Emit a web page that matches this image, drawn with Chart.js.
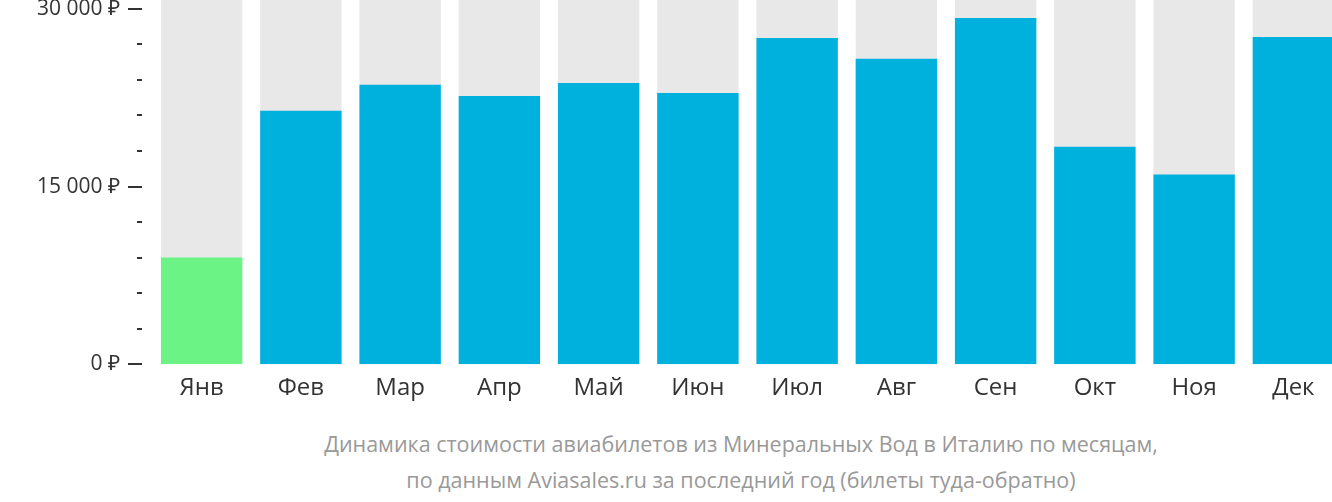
<!DOCTYPE html>
<html><head><meta charset="utf-8">
<script src="https://cdn.jsdelivr.net/npm/chart.js@4"></script>
<style>
body{margin:0;width:1332px;height:502px;overflow:hidden;background:#fff;font-family:"Open Sans",sans-serif}
#wrap{width:1343px;height:405px;position:relative}
.cap{position:absolute;left:0;width:1482px;text-align:center;color:#999;font-size:21.5px;line-height:30px}
</style></head><body>
<div id="wrap"><canvas id="myChart"></canvas></div>
<div class="cap" style="top:429px">Динамика стоимости авиабилетов из Минеральных Вод в Италию по месяцам,</div>
<div class="cap" style="top:465px">по данным Aviasales.ru за последний год (билеты туда-обратно)</div>
<script>
// Chart data
const months = ['Янв','Фев','Мар','Апр','Май','Июн','Июл','Авг','Сен','Окт','Ноя','Дек'];
const prices = [9000,21400,23600,22650,23750,22900,27550,25780,29230,18370,16010,27630];
const yTicks = [0,3000,6000,9000,12000,15000,18000,21000,24000,27000,30000];
const yMax = 30750;
const backdrop = months.map(() => yMax);
const barColors = prices.map((v, i) => i === 0 ? '#6cf385' : '#00b0dd');

// draws the value axis: dashes and labels
const yAxisMarks = {
    id: 'yAxisMarks',
    afterDraw(chart) {
        const ctx = chart.ctx, y = chart.scales.y, right = chart.chartArea.left - 10;
        ctx.save();
        ctx.strokeStyle = '#333';
        ctx.fillStyle = '#333';
        ctx.lineWidth = 2;
        ctx.font = '21px "Open Sans"';
        ctx.textAlign = 'right';
        ctx.textBaseline = 'middle';
        yTicks.forEach(v => {
            const py = Math.round(y.getPixelForValue(v));
            const major = v % 15000 === 0;
            const len = major ? 14 : 5;
            ctx.beginPath();
            ctx.moveTo(right - len, py);
            ctx.lineTo(right, py);
            ctx.stroke();
            if (major) {
                const txt = v === 0 ? '0 ₽' : (v / 1000) + ' 000 ₽';
                ctx.fillText(txt, right - 22, py);
            }
        });
        ctx.restore();
    }
};

const config = {
    type: 'bar',
    data: {
        labels: months,
        datasets: [
            { data: prices, backgroundColor: barColors, order: 0 },
            { data: backdrop, backgroundColor: '#e8e8e8', order: 1 }
        ]
    },
    options: {
        responsive: true,
        maintainAspectRatio: false,
        animation: false,
        datasets: { bar: { grouped: false, barPercentage: 0.82, categoryPercentage: 1 } },
        layout: { padding: 0 },
        plugins: { legend: { display: false }, tooltip: { enabled: false } },
        scales: {
            x: {
                grid: { display: false }, border: { display: false },
                ticks: { color: '#333', font: { family: 'Open Sans', size: 24 }, padding: 2 }
            },
            y: {
                min: 0, max: yMax,
                afterFit(s) { s.width = 152; },
                grid: { display: false }, border: { display: false },
                ticks: { display: false }
            }
        }
    },
    plugins: [yAxisMarks]
};

var myChart = new Chart(document.getElementById('myChart'), config);
</script>
</body></html>
